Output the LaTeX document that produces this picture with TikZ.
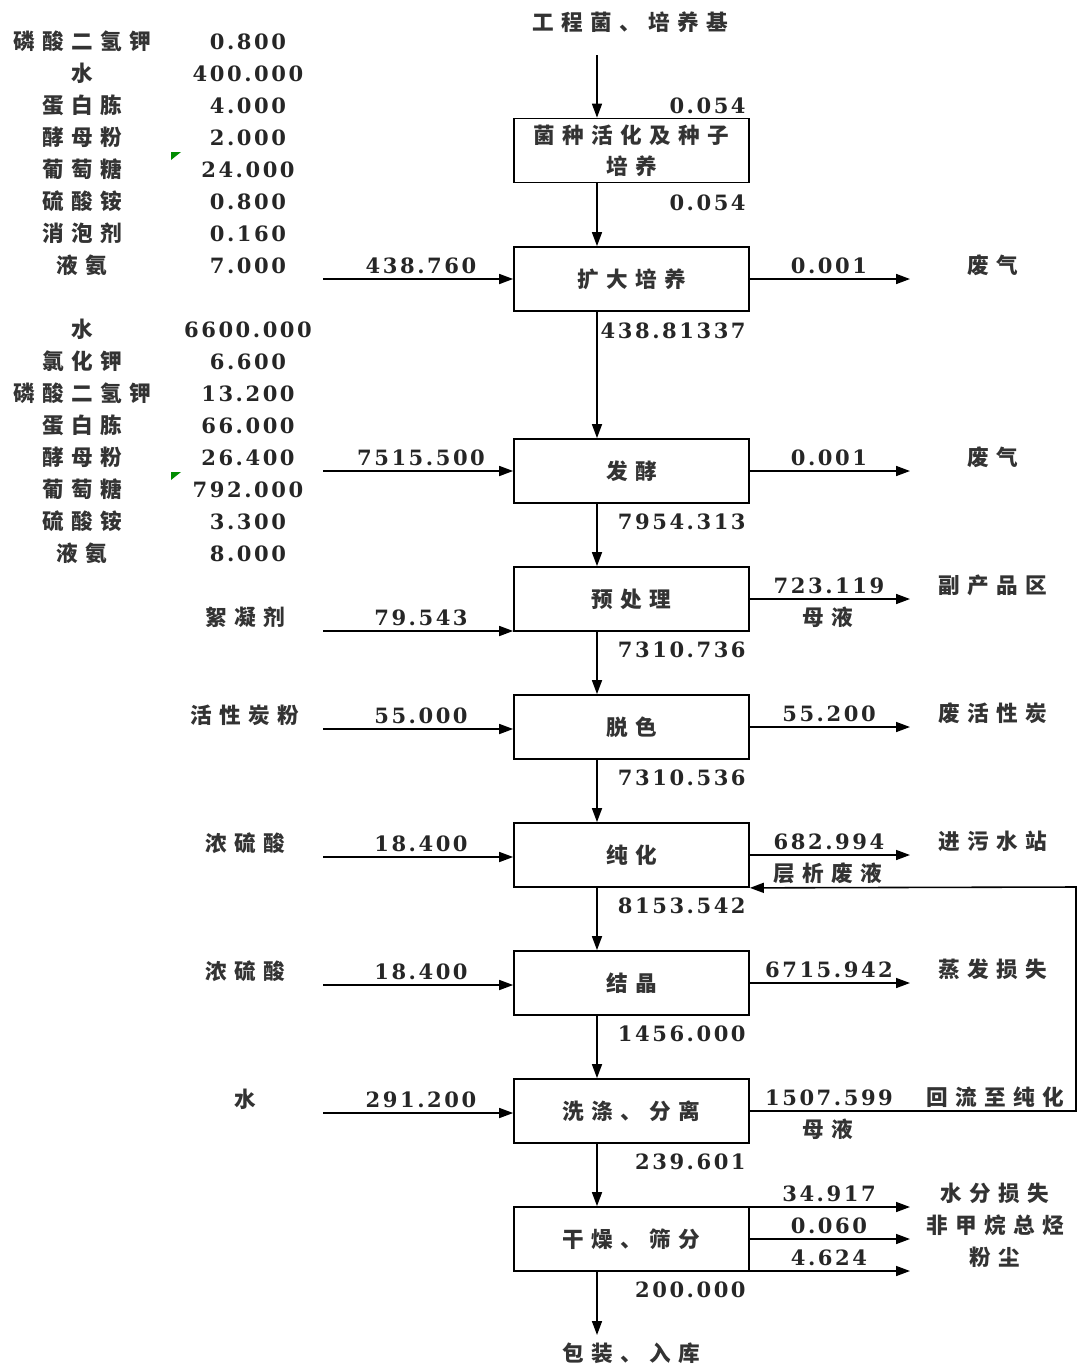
\documentclass[tikz,border=0pt]{standalone}
\usepackage{fontspec}
\setmainfont{Liberation Serif}
\newfontfamily\cjkf[LetterSpace=34]{Noto Sans CJK SC}
\newfontfamily\numf[LetterSpace=12]{DejaVu Serif}
\usetikzlibrary{arrows.meta}
\begin{document}
\begin{tikzpicture}[x=0.02cm,y=-0.02cm,
  cn/.style={font=\cjkf\bfseries\fontsize{12.3}{17.6}\selectfont, inner sep=0pt, text=black!80},
  nm/.style={font=\numf\bfseries\fontsize{12}{14}\selectfont, inner sep=0pt, text=black!85},
  pbox/.style={draw, line width=1pt, minimum width=4.7cm, minimum height=1.28cm, inner sep=0pt, align=center, font=\cjkf\bfseries\fontsize{12.3}{17.6}\selectfont, text=black!80},
  arr/.style={line width=0.9pt, -{Triangle[length=0.28cm,width=0.2cm]}},
  ln/.style={line width=0.9pt}]
\useasboundingbox (0,0) rectangle (1078,1369);
% left list 1
\foreach \n/\t/\v [count=\i from 0] in {n1/磷酸二氢钾/0.800, n2/水/400.000, n3/蛋白胨/4.000, n4/酵母粉/2.000, n5/葡萄糖/24.000, n6/硫酸铵/0.800, n7/消泡剂/0.160, n8/液氨/7.000}{
  \node[cn] (a\n) at (82,41+32*\i) {\t};
  \node[nm] (v\n) at (248,42+32*\i) {\v};
}
\foreach \n/\t/\v [count=\i from 0] in {m1/水/6600.000, m2/氯化钾/6.600, m3/磷酸二氢钾/13.200, m4/蛋白胨/66.000, m5/酵母粉/26.400, m6/葡萄糖/792.000, m7/硫酸铵/3.300, m8/液氨/8.000}{
  \node[cn] (a\n) at (82,329+32*\i) {\t};
  \node[nm] (v\n) at (248,330+32*\i) {\v};
}
\fill[green!55!black] (171,152) -- (181,152) -- (171,160) -- cycle;
\fill[green!55!black] (171,472) -- (181,472) -- (171,480) -- cycle;
% boxes
\node[pbox] (b1) at (631.5,150.5) {菌种活化及种子\\培养};
\node[pbox] (b2) at (631.5,279) {扩大培养};
\node[pbox] (b3) at (631.5,471) {发酵};
\node[pbox] (b4) at (631.5,599) {预处理};
\node[pbox] (b5) at (631.5,727) {脱色};
\node[pbox] (b6) at (631.5,855) {纯化};
\node[pbox] (b7) at (631.5,983) {结晶};
\node[pbox] (b8) at (631.5,1111) {洗涤、分离};
\node[pbox] (b9) at (631.5,1239) {干燥、筛分};
\node[cn] (top) at (630,22) {工程菌、培养基};
\node[cn] (bot) at (631,1353) {包装、入库};
\coordinate (vx) at (597,0);
\coordinate (t0) at (597,55);
\coordinate (t1) at (597,1335);
% vertical flow
\draw[arr] (t0) -- (b1.north -| vx);
\draw[arr] (b1.south -| vx) -- (b2.north -| vx);
\draw[arr] (b2.south -| vx) -- (b3.north -| vx);
\draw[arr] (b3.south -| vx) -- (b4.north -| vx);
\draw[arr] (b4.south -| vx) -- (b5.north -| vx);
\draw[arr] (b5.south -| vx) -- (b6.north -| vx);
\draw[arr] (b6.south -| vx) -- (b7.north -| vx);
\draw[arr] (b7.south -| vx) -- (b8.north -| vx);
\draw[arr] (b8.south -| vx) -- (b9.north -| vx);
\draw[arr] (b9.south -| vx) -- (t1);
\node[nm,anchor=east] (f0) at (746,106) {0.054};
\node[nm,anchor=east] (f1) at (746,203) {0.054};
\node[nm,anchor=east] (f2) at (746,331) {438.81337};
\node[nm,anchor=east] (f3) at (746,522) {7954.313};
\node[nm,anchor=east] (f4) at (746,650) {7310.736};
\node[nm,anchor=east] (f5) at (746,778) {7310.536};
\node[nm,anchor=east] (f6) at (746,906) {8153.542};
\node[nm,anchor=east] (f7) at (746,1034) {1456.000};
\node[nm,anchor=east] (f8) at (746,1162) {239.601};
\node[nm,anchor=east] (f9) at (746,1290) {200.000};
% inputs
\foreach \b/\y/\v/\t in {b2/279/438.760/, b3/471/7515.500/, b4/631/79.543/絮凝剂, b5/729/55.000/活性炭粉, b6/857/18.400/浓硫酸, b7/985/18.400/浓硫酸, b8/1113/291.200/水}{
  \coordinate (i\b) at (323,\y);
  \draw[arr] (i\b) -- (\b.west |- i\b);
  \node[nm] (iv\b) at (421,\y-13) {\v};
  \node[cn] (it\b) at (245,\y-14) {\t};
}
% outputs
\foreach \b/\y/\v/\t/\u in {b2/279/0.001/废气/, b3/471/0.001/废气/, b4/599/723.119/副产品区/母液, b5/727/55.200/废活性炭/, b6/855/682.994/进污水站/层析废液}{
  \coordinate (o\b) at (910,\y);
  \draw[arr] (\b.east |- o\b) -- (o\b);
  \node[nm] (ov\b) at (829,\y-13) {\v};
  \node[cn] (ot\b) at (993,\y-14) {\t};
  \node[cn] (ou\b) at (828,\y+18) {\u};
}
\coordinate (ob7) at (910,983);
\draw[arr] (b7.east |- ob7) -- (ob7);
\node[nm] (ovb7) at (829,970) {6715.942};
\node[cn] (otb7) at (993,969) {蒸发损失};
% recycle
\coordinate (r1) at (1076,1111);
\coordinate (r2) at (1076,887);
\draw[arr] (b8.east) -- (r1) -- (r2) -- (b6.south east);
\node[nm] (ovb8) at (829,1098) {1507.599};
\node[cn] (otb8) at (995,1097) {回流至纯化};
\node[cn] (oub8) at (828,1129) {母液};
% drying outputs
\foreach \y/\v/\t [count=\i] in {1207/34.917/水分损失, 1239/0.060/非甲烷总烃, 1271/4.624/粉尘}{
  \coordinate (d\i) at (910,\y);
  \draw[arr] (b9.east |- d\i) -- (d\i);
  \node[nm] (dv\i) at (829,\y-13) {\v};
  \node[cn] (dt\i) at (995,\y-14) {\t};
}
\end{tikzpicture}
\end{document}
